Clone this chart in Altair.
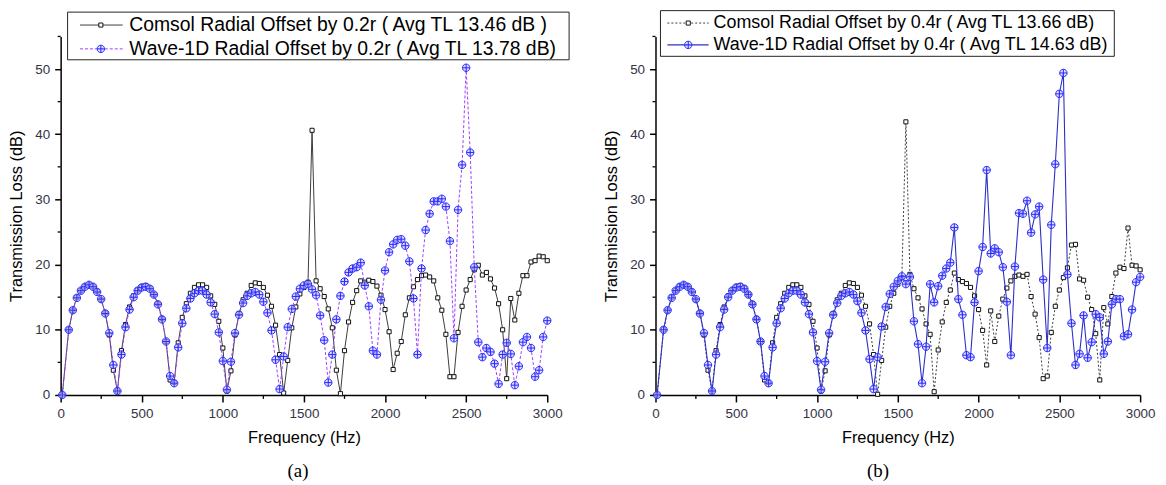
import altair as alt
import pandas as pd

FREQ = [10, 50, 75, 100, 125, 150, 175, 200, 225, 250, 275, 300, 325, 350, 375, 400, 425, 450, 475, 500,
        525, 550, 575, 600, 625, 650, 675, 700, 725, 750, 775, 800, 825, 850, 875, 900, 925, 950, 975, 1000,
        1025, 1050, 1075, 1100, 1125, 1150, 1175, 1200, 1225, 1250, 1275, 1300, 1325, 1350, 1375, 1400, 1425, 1450, 1475, 1500,
        1525, 1550, 1575, 1600, 1625, 1650, 1675, 1700, 1725, 1750, 1775, 1800, 1825, 1850, 1875, 1900, 1925, 1950, 1975, 2000,
        2025, 2050, 2075, 2100, 2125, 2150, 2175, 2200, 2225, 2250, 2275, 2300, 2325, 2350, 2375, 2400, 2425, 2450, 2475, 2500,
        2525, 2550, 2575, 2600, 2625, 2650, 2675, 2700, 2725, 2750, 2775, 2800, 2825, 2850, 2875, 2900, 2925, 2950, 2975, 3000]

COMSOL_A = [0, 10, 13, 15, 16, 16.7, 16.9, 16.6, 15.9, 14.6,
            12.6, 9.2, 3.8, 0.6, 6.8, 10.8, 13.5, 15.2, 16.1, 16.6,
            16.8, 16.4, 15.4, 14.0, 11.7, 8.2, 2.3, 1.9, 8.0, 11.9,
            14.0, 15.6, 16.5, 16.9, 16.9, 16.5, 15.2, 13.9, 11.3, 7.2,
            0.6, 3.7, 9.2, 12.5, 14.6, 15.6, 16.8, 17.2, 17.1, 16.5,
            15.3, 13.6, 10.7, 6.2, 0.3, 5.3, 10.3, 13.5, 15.5, 16.5,
            17.3, 40.6, 17.5, 16.3, 15.1, 13.2, 10.3, 3.8, 0.2, 6.8,
            11.2, 14.2, 16.0, 17.5, 17.3, 17.6, 17.4, 16.7, 15.3, 13.1,
            9.7, 3.9, 6.4, 8.2, 12.3, 14.9, 16.6, 17.7, 18.3, 18.4,
            18.1, 17.5, 14.9, 13.0, 9.3, 2.8, 2.8, 9.6, 13.6, 16.1,
            17.7, 19.2, 19.9, 18.4, 18.8, 17.8, 16.4, 14.0, 10.0, 2.5,
            14.8, 11.5, 15.6, 18.3, 18.3, 20.4, 20.6, 21.3, 21.2, 20.6]

WAVE_A = [0, 10, 13, 14.9, 16, 16.6, 16.9, 16.6, 15.8, 14.7,
          12.5, 9.5, 4.6, 0.6, 6.2, 10.4, 13.1, 15.0, 16.0, 16.5,
          16.6, 16.3, 15.4, 13.9, 11.6, 8.2, 2.9, 1.8, 7.3, 11.0,
          13.3, 14.8, 15.6, 16.0, 16.0, 15.4, 14.2, 12.4, 9.6, 5.2,
          0.8, 5.1, 9.5, 12.3, 14.1, 15.2, 15.6, 15.8, 15.4, 14.3,
          12.6, 9.9, 5.4, 0.9, 5.9, 10.4, 13.2, 15.1, 16.3, 16.8,
          17.0, 16.2, 15.3, 12.2, 8.4, 1.9, 6.2, 11.6, 15.2, 17.4,
          18.8, 19.4, 19.6, 20.3, 16.8, 13.6, 6.8, 6.2, 14.6, 19.1,
          21.9, 23.1, 23.8, 23.9, 22.9, 20.5, 14.8, 6.2, 19.4, 25.3,
          27.8, 29.7, 29.7, 30.1, 28.9, 23.6, 8.7, 28.4, 35.3, 50.2,
          37.2, 19.6, 8.1, 5.8, 7.2, 6.6, 4.8, 1.7, 6.2, 8.0,
          6.3, 1.5, 4.4, 8.1, 8.9, 7.2, 2.8, 3.8, 8.9, 11.4]

COMSOL_B = [0, 10, 13, 15, 16, 16.7, 16.9, 16.6, 15.9, 14.6,
            12.6, 9.2, 3.8, 0.6, 6.8, 10.8, 13.5, 15.2, 16.1, 16.6,
            16.8, 16.4, 15.4, 14.0, 11.7, 8.2, 2.3, 1.9, 8.0, 11.9,
            14.0, 15.6, 16.5, 16.9, 16.9, 16.5, 15.2, 13.9, 11.3, 7.2,
            0.6, 3.7, 9.2, 12.5, 14.6, 15.6, 16.8, 17.2, 17.1, 16.5,
            15.3, 13.6, 10.9, 6.2, 0.1, 5.3, 10.4, 13.6, 15.6, 17.0,
            18.0, 41.9, 18.5, 16.3, 14.9, 13.2, 10.9, 9.3, 0.5, 6.9,
            11.2, 14.2, 16.1, 18.7, 17.7, 17.4, 17.1, 16.5, 15.2, 13.1,
            9.9, 4.6, 12.9, 8.2, 12.1, 14.7, 16.4, 17.5, 18.2, 18.4,
            18.2, 18.5, 15.1, 12.4, 8.8, 2.5, 2.9, 9.6, 13.6, 16.1,
            18.0, 19.5, 23.0, 23.1, 17.8, 17.6, 15.0, 13.1, 9.4, 2.3,
            13.4, 10.9, 15.1, 18.7, 19.6, 19.4, 25.6, 19.9, 19.8, 19.2]

WAVE_B = [0, 10, 13, 14.9, 16, 16.6, 16.9, 16.6, 15.8, 14.7,
          12.5, 9.5, 4.6, 0.6, 6.2, 10.4, 13.1, 15.0, 16.0, 16.5,
          16.6, 16.3, 15.4, 13.9, 11.6, 8.2, 2.9, 1.8, 7.3, 11.0,
          13.3, 14.8, 15.6, 16.0, 16.0, 15.4, 14.2, 12.4, 9.6, 5.2,
          0.8, 5.1, 9.5, 12.3, 14.1, 15.2, 15.6, 15.8, 15.4, 14.4,
          12.6, 9.9, 5.5, 0.9, 5.8, 10.5, 13.5, 15.5, 16.6, 17.5,
          18.2, 17.0, 18.1, 11.3, 7.8, 1.8, 7.4, 17.0, 14.2, 16.7,
          18.3, 19.4, 20.3, 25.7, 14.7, 12.3, 6.1, 5.8, 14.2, 19.0,
          22.7, 34.5, 21.7, 22.5, 21.9, 19.6, 14.3, 6.1, 19.7, 27.9,
          27.8, 29.8, 24.9, 27.7, 28.9, 17.7, 7.2, 26.1, 35.4, 46.2,
          49.4, 18.5, 11.0, 4.6, 6.3, 12.2, 5.7, 8.1, 12.4, 11.9,
          6.3, 8.2, 13.9, 14.7, 14.7, 9.0, 9.3, 13.1, 17.3, 18.1]

X_TICKS = [0, 500, 1000, 1500, 2000, 2500, 3000]
X_MINOR = [250, 750, 1250, 1750, 2250, 2750]
Y_TICKS = [0, 10, 20, 30, 40, 50]
Y_MINOR = [5, 15, 25, 35, 45, 55]

LEGEND_A = ["Comsol Radial Offset by 0.2r ( Avg TL 13.46 dB )",
            "Wave-1D Radial Offset by 0.2r ( Avg TL 13.78 dB)"]
LEGEND_B = ["Comsol Radial Offset by 0.4r ( Avg TL 13.66 dB)",
            "Wave-1D Radial Offset by 0.4r ( Avg TL 14.63 dB)"]
CAPTIONS = ["(a)", "(b)"]

H = 361
FONT = "Liberation Sans"
OPLUS = "M1,0A1,1,0,1,1,-1,0A1,1,0,1,1,1,0Z M-1,0L1,0 M0,-1L0,1"
BLUE_MK = "#2a2aff"
BLUE_FILL = "#c4c4ff"


def panel(comsol, wave, W, c_dash, w_color, w_dash, w_width, labels, leg, caption, cap_x):
    df = pd.DataFrame({"f": FREQ, "c": comsol, "w": wave})
    xs = alt.Scale(domain=[0, 3000], nice=False)
    ys = alt.Scale(domain=[0, 55], nice=False)
    xaxis = alt.Axis(values=X_TICKS, title="Frequency (Hz)", tickSize=7, labelPadding=5, format="d",
                     titlePadding=9, labelFlush=False, labelOverlap=False)
    yaxis = alt.Axis(values=Y_TICKS, title="Transmission Loss (dB)", tickSize=6, labelPadding=5,
                     titlePadding=10, labelOverlap=False, format="d")
    X = alt.X("f:Q", scale=xs, axis=xaxis)
    base = alt.Chart(df)

    c_line_kw = dict(color="#3c3c3c", strokeWidth=1)
    if c_dash:
        c_line_kw["strokeDash"] = c_dash
    w_line_kw = dict(color=w_color, strokeWidth=w_width)
    if w_dash:
        w_line_kw["strokeDash"] = w_dash

    c_line = base.mark_line(**c_line_kw).encode(x=X, y=alt.Y("c:Q", scale=ys, axis=yaxis))
    c_pts = base.mark_point(shape="square", size=17, filled=True, fill="white",
                            stroke="#111111", strokeWidth=1, opacity=1).encode(
        x=X, y=alt.Y("c:Q", scale=ys, axis=yaxis))
    w_line = base.mark_line(**w_line_kw).encode(x=X, y=alt.Y("w:Q", scale=ys, axis=yaxis))
    w_pts = base.mark_point(shape=OPLUS, size=56, filled=True, fill=BLUE_FILL, fillOpacity=0.6,
                            stroke=BLUE_MK, strokeWidth=1, opacity=1).encode(
        x=X, y=alt.Y("w:Q", scale=ys, axis=yaxis))

    xminor = alt.Chart(pd.DataFrame({"t": X_MINOR})).mark_rule(color="black", strokeWidth=1.3).encode(
        x=alt.X("t:Q", scale=xs, axis=xaxis), y=alt.value(H), y2=alt.value(H + 4))
    yminor = alt.Chart(pd.DataFrame({"t": Y_MINOR})).mark_rule(color="black", strokeWidth=1.3).encode(
        y=alt.Y("t:Q", scale=ys, axis=yaxis), x=alt.value(0), x2=alt.value(-3))

    one = pd.DataFrame({"k": [0]})
    box = alt.Chart(one).mark_rect(fill="white", stroke="#222222", strokeWidth=1).encode(
        x=alt.value(leg["x0"]), x2=alt.value(leg["x1"]), y=alt.value(leg["y0"]), y2=alt.value(leg["y1"]))
    lay = [c_line, c_pts, w_line, w_pts, xminor, yminor, box]

    r1 = leg["r1"]
    r2 = leg["r2"]
    lay.append(alt.Chart(one).mark_rule(**c_line_kw).encode(
        x=alt.value(leg["lx0"]), x2=alt.value(leg["lx1"]), y=alt.value(r1)))
    lay.append(alt.Chart(one).mark_point(shape="square", size=17, filled=True, fill="white",
                                         stroke="#111111", strokeWidth=1, opacity=1).encode(
        x=alt.value(leg["mx"]), y=alt.value(r1)))
    lay.append(alt.Chart(one).mark_rule(**w_line_kw).encode(
        x=alt.value(leg["lx0"]), x2=alt.value(leg["lx1"]), y=alt.value(r2)))
    lay.append(alt.Chart(one).mark_point(shape=OPLUS, size=56, filled=True, fill=BLUE_FILL, fillOpacity=0.6,
                                         stroke=BLUE_MK, strokeWidth=1, opacity=1).encode(
        x=alt.value(leg["mx"]), y=alt.value(r2)))
    for lab, ry in zip(labels, [r1, r2]):
        lay.append(alt.Chart(pd.DataFrame({"label": [lab]})).mark_text(
            align="left", baseline="middle", font=FONT, fontSize=leg["fs"], color="black").encode(
            x=alt.value(leg["tx"]), y=alt.value(ry), text="label:N"))
    lay.append(alt.Chart(pd.DataFrame({"label": [caption]})).mark_text(
        align="center", baseline="alphabetic", font="Liberation Serif", fontSize=19, color="black").encode(
        x=alt.value(cap_x), y=alt.value(H + 83), text="label:N"))

    return alt.layer(*lay).properties(width=W, height=H)


leg_a = dict(x0=7, x1=512, y0=-24.5, y1=23.5, r1=-11.5, r2=12.5, lx0=19.5, lx1=62.5, mx=40.5, tx=69, fs=19.5)
leg_b = dict(x0=5, x1=462, y0=-26, y1=20, r1=-13.5, r2=8.5, lx0=12, lx1=53.5, mx=33, tx=58.5, fs=18)

pa = panel(COMSOL_A, WAVE_A, 490, None, "#a040ff", [3, 2], 1, LEGEND_A, leg_a, CAPTIONS[0], 239)
pb = panel(COMSOL_B, WAVE_B, 488, [2, 2], "#2e2ec8", None, 1.1, LEGEND_B, leg_b, CAPTIONS[1], 224)

chart = alt.hconcat(pa, pb, spacing=33).properties(
    padding={"left": 0, "top": 0, "right": 2, "bottom": 0}
).configure_view(stroke=None).configure_axis(
    grid=False, domainColor="black", domainWidth=1.5, tickColor="black", tickWidth=1.5,
    labelFont=FONT, labelFontSize=13.5, labelColor="#333344",
    titleFont=FONT, titleFontSize=16.5, titleFontWeight="normal", titleColor="black"
)

chart.save("out.html", embed_options={"renderer": "svg", "actions": False})
